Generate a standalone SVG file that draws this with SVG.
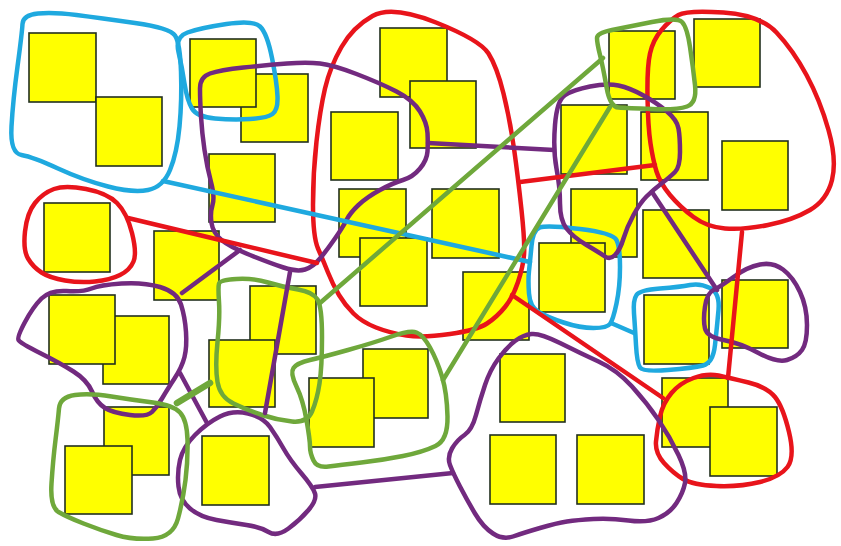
<svg xmlns="http://www.w3.org/2000/svg" width="841" height="546" viewBox="0 0 841 546">
<style>
.sq{fill:#ffff00;stroke:#22301e;stroke-width:1.6}
.ln{fill:none;stroke-width:4.5;stroke-linejoin:round;stroke-linecap:round}
.c{stroke:#1fa9df}.r{stroke:#e8141b}.p{stroke:#722a7f}.g{stroke:#6fa83b}
</style>
<rect width="841" height="546" fill="#ffffff"/>
<g id="notes">
<rect id="n1" class="sq" x="29" y="33" width="67" height="69"/>
<rect id="n2" class="sq" x="96" y="97" width="66" height="69"/>
<rect id="n4" class="sq" x="241" y="74" width="67" height="68"/>
<rect id="n3" class="sq" x="190" y="39" width="66" height="68"/>
<rect id="n5" class="sq" x="209" y="154" width="66" height="68"/>
<rect id="n6" class="sq" x="44" y="203" width="66" height="69"/>
<rect id="n7" class="sq" x="154" y="231" width="65" height="69"/>
<rect id="n8" class="sq" x="380" y="28" width="67" height="69"/>
<rect id="n9" class="sq" x="410" y="81" width="66" height="67"/>
<rect id="n10" class="sq" x="331" y="112" width="67" height="68"/>
<rect id="n11" class="sq" x="339" y="189" width="67" height="68"/>
<rect id="n13" class="sq" x="360" y="238" width="67" height="68"/>
<rect id="n12" class="sq" x="432" y="189" width="67" height="69"/>
<rect id="n14" class="sq" x="463" y="272" width="66" height="68"/>
<rect id="n15" class="sq" x="561" y="105" width="66" height="69"/>
<rect id="n16" class="sq" x="571" y="189" width="66" height="68"/>
<rect id="n17" class="sq" x="539" y="243" width="66" height="69"/>
<rect id="n18" class="sq" x="609" y="31" width="66" height="68"/>
<rect id="n19" class="sq" x="694" y="19" width="66" height="68"/>
<rect id="n20" class="sq" x="641" y="112" width="67" height="68"/>
<rect id="n21" class="sq" x="722" y="141" width="66" height="69"/>
<rect id="n22" class="sq" x="643" y="210" width="66" height="68"/>
<rect id="n23" class="sq" x="644" y="295" width="65" height="69"/>
<rect id="n24" class="sq" x="722" y="280" width="66" height="68"/>
<rect id="n25" class="sq" x="662" y="378" width="66" height="69"/>
<rect id="n26" class="sq" x="710" y="407" width="67" height="69"/>
<rect id="n27" class="sq" x="577" y="435" width="67" height="69"/>
<rect id="n28" class="sq" x="500" y="354" width="65" height="68"/>
<rect id="n29" class="sq" x="490" y="435" width="66" height="69"/>
<rect id="n30" class="sq" x="363" y="349" width="65" height="69"/>
<rect id="n31" class="sq" x="309" y="378" width="65" height="69"/>
<rect id="n32" class="sq" x="250" y="286" width="66" height="68"/>
<rect id="n35" class="sq" x="209" y="340" width="66" height="67"/>
<rect id="n34" class="sq" x="103" y="316" width="66" height="68"/>
<rect id="n33" class="sq" x="49" y="295" width="66" height="69"/>
<rect id="n36" class="sq" x="104" y="407" width="65" height="68"/>
<rect id="n37" class="sq" x="65" y="446" width="67" height="68"/>
<rect id="n38" class="sq" x="202" y="436" width="67" height="69"/>
</g>
<g id="groups">
<path id="cyanA" class="ln c" d="M22.5,24 Q23,15 38,13.5 Q53,12 76.5,15 Q100,18 135,23 Q170,28 175,35.5 Q180,43 181,71.5 Q182,100 179.5,126.5 Q177,153 170,170 Q163,187 148,190 Q133,193 108,186.5 Q83,180 58,168.5 Q33,157 21.5,155 Q10,153 11.5,126.5 Q13,100 17.5,66.5 Q22,33 22.5,24 Z"/>
<path id="cyanB" class="ln c" d="M178.5,52 Q175,37 187.5,32.5 Q200,28 226.5,24 Q253,20 260,26.5 Q267,33 272,58 Q277,83 277.5,96.5 Q278,110 272.5,114 Q267,118 250,119 Q233,120 215,118.5 Q197,117 192,108.5 Q187,100 184.5,83.5 Q182,67 178.5,52 Z"/>
<path id="cyanC" class="ln c" d="M531.5,246 Q533,230 540,227.5 Q547,225 580,229 Q613,233 616.5,240 Q620,247 620,267 Q620,287 616.5,303.5 Q613,320 610,324 Q607,328 593.5,328 Q580,328 563.5,322.5 Q547,317 538.5,312 Q530,307 529,293.5 Q528,280 529,271 Q530,262 531.5,246 Z"/>
<path id="cyanD" class="ln c" d="M634,313.5 Q633,300 636.5,295 Q640,290 660,288.5 Q680,287 690,285 Q700,283 710,288 Q720,293 718.5,310 Q717,327 715,345 Q713,363 703,365.5 Q693,368 668,370 Q643,372 640,367.5 Q637,363 636,345 Q635,327 634,313.5 Z"/>
<path id="redE" class="ln r" d="M54,189 Q65,185 86,189 Q107,193 117,203 Q127,213 132,233 Q137,253 133.5,261.5 Q130,270 120,275 Q110,280 95,281.5 Q80,283 65,280.5 Q50,278 41.5,272.5 Q33,267 28,258.5 Q23,250 25,231.5 Q27,213 35,203 Q43,193 54,189 Z"/>
<path id="redF" class="ln r" d="M372.5,16 Q392,5 436,22.5 Q480,40 488.5,53.5 Q497,67 503.5,93.5 Q510,120 514,148.5 Q518,177 521.5,210 Q525,243 524,255 Q523,267 518,282 Q513,297 505,307 Q497,317 487,323.5 Q477,330 450,334 Q423,338 406.5,335.5 Q390,333 376,327.5 Q362,322 353.5,313.5 Q345,305 339,295 Q333,285 328,272.5 Q323,260 318,248.5 Q313,237 313,205 Q313,173 316.5,141.5 Q320,110 325,88.5 Q330,67 341.5,47 Q353,27 372.5,16 Z"/>
<path id="redG" class="ln r" d="M678.5,15 Q687,10 723.5,12.5 Q760,15 776.5,32.5 Q793,50 806.5,75 Q820,100 828.5,130 Q837,160 832,180 Q827,200 810,210 Q793,220 768,225 Q743,230 725,228.5 Q707,227 693.5,217 Q680,207 670,195 Q660,183 656.5,171.5 Q653,160 650.5,143.5 Q648,127 647.5,97 Q647,67 650,53.5 Q653,40 661.5,30 Q670,20 678.5,15 Z"/>
<path id="redH" class="ln r" d="M693.5,378 Q707,373 718.5,375.5 Q730,378 748.5,382.5 Q767,387 775,397 Q783,407 789,432 Q795,457 787.5,467 Q780,477 760,482 Q740,487 716.5,486 Q693,485 683,479 Q673,473 664,463 Q655,453 656,441.5 Q657,430 660,416.5 Q663,403 671.5,393 Q680,383 693.5,378 Z"/>
<path id="purpleI" class="ln p" d="M200,88.5 Q200,77 210,73.5 Q220,70 243.5,67.5 Q267,65 287,63.5 Q307,62 320,63.5 Q333,65 356.5,74 Q380,83 396.5,91.5 Q413,100 420,111.5 Q427,123 427.5,133 Q428,143 427.5,151.5 Q427,160 420,168.5 Q413,177 403,180 Q393,183 380,190 Q367,197 358.5,205 Q350,213 346.5,220 Q343,227 335,238.5 Q327,250 320,258.5 Q313,267 305,269.5 Q297,272 283.5,267.5 Q270,263 250,255 Q230,247 221.5,240 Q213,233 211.5,223 Q210,213 212.5,205 Q215,197 211,182 Q207,167 204.5,150 Q202,133 201,116.5 Q200,100 200,88.5 Z"/>
<path id="purpleJ" class="ln p" d="M556.5,168.5 Q553,150 555,125 Q557,100 565,95 Q573,90 590,86.5 Q607,83 618.5,85.5 Q630,88 643.5,95.5 Q657,103 667,111.5 Q677,120 678.5,128.5 Q680,137 680,152 Q680,167 675,172 Q670,177 661.5,183.5 Q653,190 646.5,196.5 Q640,203 633.5,215 Q627,227 623.5,238.5 Q620,250 615,255 Q610,260 605,256.5 Q600,253 586.5,245 Q573,237 566.5,228.5 Q560,220 560,203.5 Q560,187 556.5,168.5 Z"/>
<path id="purpleK" class="ln p" d="M705,306.5 Q707,293 713.5,290 Q720,287 733.5,277 Q747,267 760,264.5 Q773,262 783,269.5 Q793,277 800,292 Q807,307 807,325 Q807,343 802,350 Q797,357 787,360 Q777,363 758.5,353 Q740,343 723.5,340 Q707,337 705,328.5 Q703,320 705,306.5 Z"/>
<path id="purpleL" class="ln p" d="M41.5,298.5 Q50,290 66.5,291 Q83,292 91.5,288.5 Q100,285 121.5,283.5 Q143,282 160,287 Q177,292 181,304.5 Q185,317 186,332 Q187,347 184.5,357 Q182,367 174.5,378.5 Q167,390 162,398.5 Q157,407 152,412 Q147,417 130,415 Q113,413 105,408 Q97,403 92,391.5 Q87,380 73.5,371.5 Q60,363 40,353 Q20,343 18.5,340 Q17,337 25,322 Q33,307 41.5,298.5 Z"/>
<path id="purpleM" class="ln p" d="M195,435 Q207,423 220,416.5 Q233,410 248,413.5 Q263,417 270,427 Q277,437 283.5,448.5 Q290,460 301.5,473.5 Q313,487 315,493.5 Q317,500 308.5,510 Q300,520 288.5,528.5 Q277,537 268.5,532 Q260,527 246.5,525 Q233,523 216.5,520 Q200,517 190,508.5 Q180,500 178.5,486.5 Q177,473 180,460 Q183,447 195,435 Z"/>
<path id="purpleN" class="ln p" d="M460,486.5 Q453,473 450,465 Q447,457 452,448.5 Q457,440 464.5,435 Q472,430 476,415 Q480,400 485,385 Q490,370 498.5,358.5 Q507,347 515,341 Q523,335 531.5,334 Q540,333 560,343 Q580,353 598.5,361.5 Q617,370 632,386.5 Q647,403 658.5,420 Q670,437 678.5,455 Q687,473 685,483 Q683,493 676.5,503 Q670,513 658.5,518 Q647,523 628.5,520.5 Q610,518 593.5,519 Q577,520 567,521.5 Q557,523 540,528 Q523,533 513,536.5 Q503,540 493,533.5 Q483,527 475,513.5 Q467,500 460,486.5 Z"/>
<path id="greenO" class="ln g" d="M597,38 Q597,33 612,30 Q627,27 652,22 Q677,17 682,22 Q687,27 690,47 Q693,67 695,85 Q697,103 687,106.5 Q677,110 652,109 Q627,108 618.5,107.5 Q610,107 606.5,87 Q603,67 600,55 Q597,43 597,38 Z"/>
<path id="greenP" class="ln g" d="M219,283.5 Q220,280 236.5,279 Q253,278 268,282.5 Q283,287 298,289.5 Q313,292 317.5,299.5 Q322,307 322,337 Q322,367 319.5,383.5 Q317,400 312,411.5 Q307,423 292,421.5 Q277,420 262,415 Q247,410 233.5,403.5 Q220,397 217.5,382 Q215,367 217.5,342 Q220,317 219,302 Q218,287 219,283.5 Z"/>
<path id="greenQ" class="ln g" d="M296.5,386.5 Q290,373 293.5,368 Q297,363 310,360 Q323,357 348,350 Q373,343 391.5,336.5 Q410,330 416.5,332.5 Q423,335 430,347.5 Q437,360 442,376.5 Q447,393 447.5,416.5 Q448,440 435.5,446 Q423,452 403,456 Q383,460 361.5,462.5 Q340,465 328.5,466.5 Q317,468 313.5,460.5 Q310,453 310,446.5 Q310,440 306.5,420 Q303,400 296.5,386.5 Z"/>
<path id="greenR" class="ln g" d="M59,408.5 Q60,397 75,395 Q90,393 111.5,396.5 Q133,400 153,402.5 Q173,405 180,412.5 Q187,420 187.5,440 Q188,460 185.5,480 Q183,500 178,518.5 Q173,537 153,538.5 Q133,540 116.5,535 Q100,530 83.5,523.5 Q67,517 58.5,512 Q50,507 51.5,483.5 Q53,460 55.5,440 Q58,420 59,408.5 Z"/>
</g>
<g id="connectors">
<path class="ln c" d="M163,181 L530,262"/>
<path class="ln c" d="M611,323 L634,333"/>
<path class="ln r" d="M128,218 L220,240 L317,263"/>
<path class="ln r" d="M520,182 L655,165"/>
<path class="ln r" d="M742,232 L728,378"/>
<path class="ln r" d="M512,295 L663,398"/>
<path class="ln p" d="M428,143 L554,150"/>
<path class="ln p" d="M652,192 L717,290"/>
<path class="ln p" d="M182,293 L240,250"/>
<path class="ln p" d="M180,373 L207,423"/>
<path class="ln p" d="M290,272 L265,413"/>
<path class="ln p" d="M315,487 L453,473"/>
<path class="ln g" d="M603,58 L320,303"/>
<path class="ln g" d="M610,107 L443,380"/>
<path class="ln g" d="M177,403 L210,383" style="stroke-width:6.5"/>
</g>
</svg>
